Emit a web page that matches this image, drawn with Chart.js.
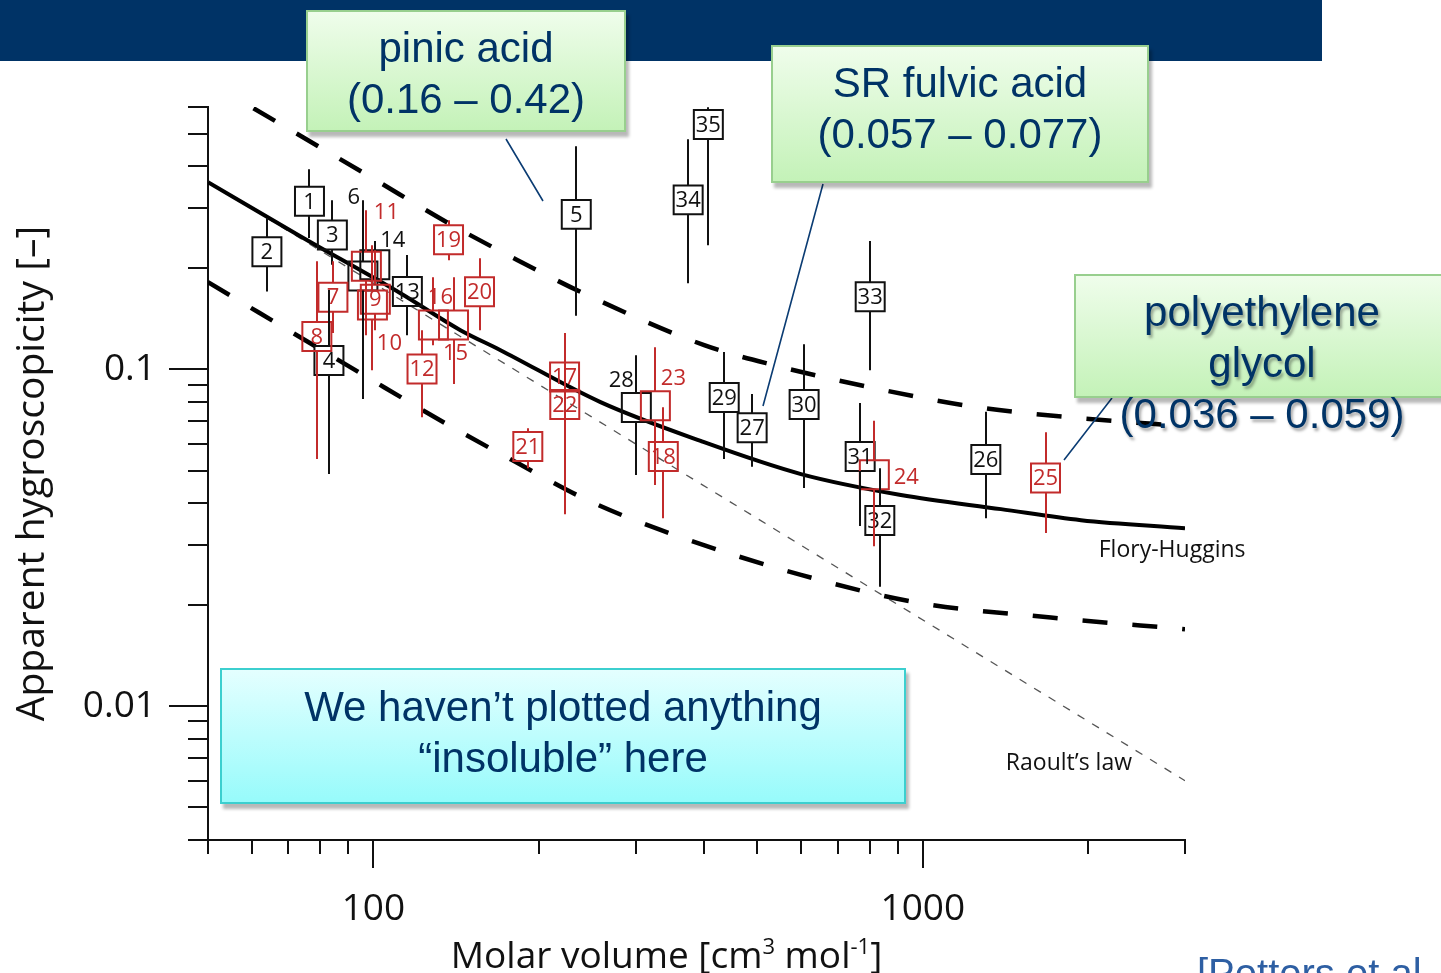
<!DOCTYPE html>
<html>
<head>
<meta charset="utf-8">
<script src="https://cdn.jsdelivr.net/npm/chart.js@4.4.1/dist/chart.umd.min.js"></script>
<style>
    html, body { margin: 0; padding: 0; background: #fff; }
    body { width: 1441px; height: 973px; overflow: hidden; position: relative; font-family: "Liberation Sans", Arial, sans-serif; }
    #header { position: absolute; left: 0; top: 0; width: 1322px; height: 61px; background: #003366; }
    #wrap { position: absolute; left: 0; top: 0; width: 1441px; height: 973px; }
    .note {
        position: absolute; box-sizing: border-box; border: 2px solid #98cf8e;
        color: #003366; font-size: 42px; line-height: 51px; text-align: center;
        padding-top: 10px; white-space: nowrap;
        background: linear-gradient(#effdeb, #c4f2b8);
        box-shadow: 3px 5px 3px rgba(0, 0, 0, 0.28);
    }
    #pinic { left: 306px; top: 10px; width: 320px; height: 122px; }
    #fulvic { left: 771px; top: 45px; width: 378px; height: 138px; }
    #peg { left: 1074px; top: 274px; width: 376px; height: 124px; text-shadow: 2px 3px 3px rgba(0, 0, 0, 0.35); }
    #insol { left: 220px; top: 668px; width: 686px; height: 136px; border-color: #3ccfcf; padding-top: 11px;
             background: linear-gradient(#e4ffff, #97fbfb); }
    #cite { position: absolute; left: 1197px; top: 951px; font-size: 40px; line-height: 44px; color: #2e5fa3; white-space: nowrap; }
</style>
</head>
<body>
<div id="header"></div>
<div id="wrap"><canvas id="chart" width="1441" height="973"></canvas></div>
<div class="note" id="pinic">pinic acid<br>(0.16 – 0.42)</div>
<div class="note" id="fulvic">SR fulvic acid<br>(0.057 – 0.077)</div>
<div class="note" id="peg">polyethylene<br>glycol<br>(0.036 – 0.059)</div>
<div class="note" id="insol">We haven’t plotted anything<br>“insoluble” here</div>
<div id="cite">[Petters et al., 2009]</div>

<script>
// measured compounds, black symbols
const blackIds = [1, 2, 3, 4, 5, 6, 13, 14, 26, 27, 28, 29, 30, 31, 32, 33, 34, 35];
const blackVol = [76.5, 64, 84.2, 83, 234, 95.7, 115.3, 100.6, 1302, 489, 301, 435, 608, 769, 835, 802, 374, 407];
const blackKappa = [0.315, 0.223, 0.250, 0.106, 0.288, 0.189, 0.170, 0.204, 0.0539, 0.0670, 0.0769, 0.0823, 0.0785, 0.0550, 0.0355, 0.164, 0.318, 0.532];
const blackLow = [0.245, 0.170, 0.204, 0.0488, 0.144, 0.0815, 0.126, 0.178, 0.0361, 0.0513, 0.0485, 0.0541, 0.0444, 0.0342, 0.0226, 0.0993, 0.180, 0.233];
const blackHigh = [0.392, 0.281, 0.317, 0.172, 0.459, 0.317, 0.218, 0.240, 0.0747, 0.0843, 0.110, 0.1125, 0.1186, 0.0793, 0.0508, 0.240, 0.481, 0.599];

// measured compounds, red symbols
const redIds = [7, 8, 9, 10, 11, 12, 15, 16, 17, 18, 19, 20, 21, 22, 23, 24, 25];
const redVol = [84.4, 78.9, 100.8, 99.6, 97.1, 122.6, 139.9, 128.6, 222.8, 337, 137, 156, 191, 223, 326, 816, 1672];
const redKappa = [0.1635, 0.1249, 0.1613, 0.1549, 0.2021, 0.100, 0.1351, 0.1351, 0.0947, 0.0550, 0.2423, 0.1698, 0.0589, 0.0785, 0.0779, 0.0486, 0.0475];
const redLow = [0.1279, 0.0541, 0.1305, 0.0992, 0.1261, 0.072, 0.0903, 0.1178, 0.0706, 0.0361, 0.2106, 0.1305, 0.0508, 0.0371, 0.0453, 0.0298, 0.0326];
const redHigh = [0.2092, 0.2092, 0.2255, 0.2333, 0.2964, 0.1305, 0.1875, 0.1875, 0.1279, 0.0771, 0.2767, 0.2135, 0.0668, 0.1178, 0.1162, 0.0703, 0.0650];

// model curves
const fhVol = [50, 73.6, 112, 144, 170, 259, 394, 600, 912, 1387, 1940, 3000];
const fhKappa = [0.359, 0.248, 0.168, 0.1305, 0.114, 0.0798, 0.0612, 0.0488, 0.0423, 0.0384, 0.0356, 0.0337];
const upperVol = [60.5, 100, 136, 183, 241, 400, 535, 815, 1254, 1915, 3000];
const upperKappa = [0.595, 0.3675, 0.273, 0.2106, 0.168, 0.1178, 0.1028, 0.0878, 0.0771, 0.0716, 0.0677];
const lowerVol = [50, 94.7, 137, 183, 241, 333, 600, 990, 1710, 3000];
const lowerKappa = [0.1812, 0.0973, 0.0682, 0.0526, 0.0414, 0.0333, 0.0245, 0.0202, 0.0183, 0.0169];
const raoultVol = [50, 3000];
const raoultKappa = [0.36, 0.006];

// axes
const xTicks = [50, 60, 70, 80, 90, 100, 200, 300, 400, 500, 600, 700, 800, 900, 1000, 2000, 3000];
const xTickValues = [100, 1000];
const xTickLabels = ["100", "1000"];
const yTicks = [0.004, 0.005, 0.006, 0.007, 0.008, 0.009, 0.01, 0.02, 0.03, 0.04, 0.05, 0.06, 0.07, 0.08, 0.09, 0.1, 0.2, 0.3, 0.4, 0.5, 0.6];
const yTickValues = [0.01, 0.1];
const yTickLabels = ["0.01", "0.1"];

const RED = "#c22b2b";
const INK = "#111111";
const HALF = 14.5;

// numbers drawn beside the box instead of inside it (pixel offsets)
const labelOffset = {
    6: [-9, -79], 10: [17, 38], 11: [20, -54], 14: [18, -25], 15: [2, 28],
    16: [7, -28], 23: [18, -28], 24: [32, 2], 28: [-15, -28]
};

function pts(xs, ys) {
    return xs.map((v, i) => ({ x: v, y: ys[i] }));
}

function isDecade(v) {
    const e = Math.log10(v);
    return Math.abs(e - Math.round(e)) < 1e-6;
}

function tickLabel(v, values, labels) {
    for (let i = 0; i < values.length; i++) {
        if (Math.abs(v - values[i]) / values[i] < 1e-6) return labels[i];
    }
    return "";
}

function drawGroup(chart, ids, vol, kappa, low, high, color) {
    const { ctx, scales: { x, y } } = chart;
    ctx.save();
    ctx.strokeStyle = color;
    ctx.lineWidth = 2;
    ctx.beginPath();
    for (let i = 0; i < ids.length; i++) {
        const px = Math.round(x.getPixelForValue(vol[i]));
        const pc = y.getPixelForValue(kappa[i]);
        const pt = y.getPixelForValue(high[i]);
        const pb = y.getPixelForValue(low[i]);
        if (pt < pc - HALF) { ctx.moveTo(px, pt); ctx.lineTo(px, pc - HALF); }
        if (pb > pc + HALF) { ctx.moveTo(px, pc + HALF); ctx.lineTo(px, pb); }
    }
    ctx.stroke();
    ctx.fillStyle = color;
    ctx.font = "22px 'Open Sans'";
    ctx.textAlign = "center";
    ctx.textBaseline = "middle";
    for (let i = 0; i < ids.length; i++) {
        const px = x.getPixelForValue(vol[i]);
        const pc = y.getPixelForValue(kappa[i]);
        const off = labelOffset[ids[i]] || [0, 0];
        ctx.fillText(String(ids[i]), px + off[0], pc + off[1] + 1);
    }
    ctx.restore();
}

const extras = {
    id: "extras",
    afterDatasetsDraw(chart) {
        drawGroup(chart, blackIds, blackVol, blackKappa, blackLow, blackHigh, INK);
        drawGroup(chart, redIds, redVol, redKappa, redLow, redHigh, RED);
    },
    afterDraw(chart) {
        const { ctx, chartArea: a, scales: { x, y } } = chart;
        ctx.save();

        // tick marks
        ctx.strokeStyle = INK;
        ctx.lineWidth = 2;
        ctx.beginPath();
        x.ticks.forEach(t => {
            const px = Math.round(x.getPixelForValue(t.value));
            const len = isDecade(t.value) ? 28 : 14;
            ctx.moveTo(px, a.bottom);
            ctx.lineTo(px, a.bottom + len);
        });
        y.ticks.forEach(t => {
            const py = Math.round(y.getPixelForValue(t.value));
            const len = isDecade(t.value) ? 39 : 20;
            ctx.moveTo(a.left - len, py);
            ctx.lineTo(a.left, py);
        });
        ctx.stroke();

        // x axis title with superscripts
        const parts = [["Molar volume [cm", 37, 0], ["3", 22, -14], [" mol", 37, 0], ["-1", 22, -14], ["]", 37, 0]];
        let total = 0;
        parts.forEach(p => { ctx.font = p[1] + "px 'Open Sans'"; total += ctx.measureText(p[0]).width; });
        let cx = (a.left + a.right) / 2 - 30 - total / 2;
        ctx.fillStyle = INK;
        ctx.textAlign = "left";
        ctx.textBaseline = "alphabetic";
        parts.forEach(p => {
            ctx.font = p[1] + "px 'Open Sans'";
            ctx.fillText(p[0], cx, 968 + p[2]);
            cx += ctx.measureText(p[0]).width;
        });

        // curve names
        ctx.font = "23px 'Open Sans'";
        ctx.textBaseline = "middle";
        ctx.fillText("Flory-Huggins", x.getPixelForValue(2090), y.getPixelForValue(0.029));
        ctx.fillText("Raoult’s law", x.getPixelForValue(1416), y.getPixelForValue(0.00673));

        // callout leader lines
        ctx.strokeStyle = "#0b3c73";
        ctx.lineWidth = 1.6;
        ctx.beginPath();
        [[506, 139, 543, 201], [823, 184, 763, 406], [1112, 398, 1064, 460]].forEach(s => {
            ctx.moveTo(s[0], s[1]);
            ctx.lineTo(s[2], s[3]);
        });
        ctx.stroke();
        ctx.restore();
    }
};

const lineBase = { showLine: true, pointRadius: 0, pointHoverRadius: 0, fill: false, cubicInterpolationMode: "monotone" };
const boxBase = { showLine: false, pointStyle: "rect", pointRadius: 20.5, pointHoverRadius: 20.5, pointBorderWidth: 2, backgroundColor: "rgba(0,0,0,0)" };

new Chart(document.getElementById("chart").getContext("2d"), {
    type: "scatter",
    data: {
        datasets: [
            Object.assign({ label: "Raoult's law", data: pts(raoultVol, raoultKappa), borderColor: "#555", borderWidth: 1.3, borderDash: [8, 9], order: 5 }, lineBase),
            Object.assign({ label: "upper", data: pts(upperVol, upperKappa), borderColor: "#000", borderWidth: 4.5, borderDash: [25, 25], order: 4 }, lineBase),
            Object.assign({ label: "lower", data: pts(lowerVol, lowerKappa), borderColor: "#000", borderWidth: 4.5, borderDash: [25, 25], order: 4 }, lineBase),
            Object.assign({ label: "Flory-Huggins", data: pts(fhVol, fhKappa), borderColor: "#000", borderWidth: 4, order: 3 }, lineBase),
            Object.assign({ label: "black", data: pts(blackVol, blackKappa), borderColor: INK, order: 2 }, boxBase),
            Object.assign({ label: "red", data: pts(redVol, redKappa), borderColor: RED, order: 1 }, boxBase)
        ]
    },
    options: {
        responsive: false,
        animation: false,
        events: [],
        layout: { autoPadding: false, padding: { left: 0, top: 107, right: 256, bottom: 0 } },
        plugins: { legend: { display: false }, tooltip: { enabled: false } },
        scales: {
            x: {
                type: "logarithmic",
                min: 50,
                max: 3000,
                afterFit: s => { s.height = 133; },
                afterBuildTicks: s => { s.ticks = xTicks.map(v => ({ value: v, major: isDecade(v) })); },
                grid: { display: false, drawTicks: false },
                border: { display: true, color: INK, width: 2 },
                ticks: {
                    autoSkip: false, maxRotation: 0, padding: 47, color: INK,
                    font: { family: "Open Sans", size: 37 },
                    callback: v => tickLabel(v, xTickValues, xTickLabels)
                }
            },
            y: {
                type: "logarithmic",
                min: 0.004,
                max: 0.6,
                afterFit: s => { s.width = 208; },
                afterBuildTicks: s => { s.ticks = yTicks.map(v => ({ value: v, major: isDecade(v) })); },
                grid: { display: false, drawTicks: false },
                border: { display: true, color: INK, width: 2 },
                ticks: {
                    autoSkip: false, padding: 52, color: INK,
                    font: { family: "Open Sans", size: 37 },
                    callback: v => tickLabel(v, yTickValues, yTickLabels)
                },
                title: {
                    display: true,
                    text: "Apparent hygroscopicity [–]",
                    color: INK,
                    padding: { top: 9, bottom: 0 },
                    font: { family: "Open Sans", size: 39 }
                }
            }
        }
    },
    plugins: [extras]
});
</script>
</body>
</html>
